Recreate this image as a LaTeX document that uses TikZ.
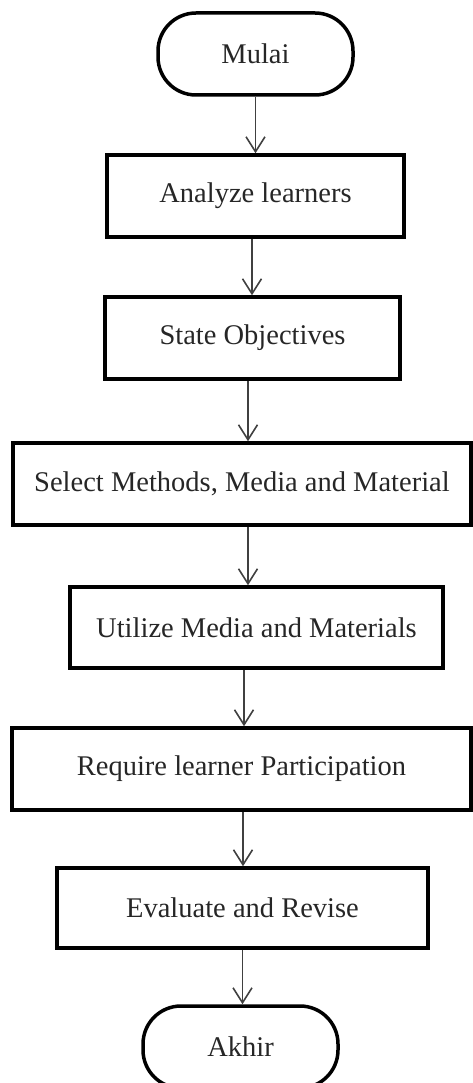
\documentclass[tikz,border=0pt]{standalone}
\usepackage{fontspec}
\setmainfont{Liberation Serif}
\usetikzlibrary{arrows.meta,calc}
\begin{document}
\begin{tikzpicture}[x=1pt,y=-1pt,
  every node/.style={font=\fontsize{28.5}{32}\selectfont, text=black!85},
  box/.style={draw=black, line width=3.5pt, rectangle, inner sep=0pt},
  term/.style={draw=black, line width=3.5pt, rectangle, rounded corners=38pt, inner sep=0pt, minimum width=195pt, minimum height=82pt},
  arr/.style={draw=black!75, line width=1.6pt, -{Straight Barb[length=15pt,width=19pt,line width=1.6pt]}}
]
\useasboundingbox (0,0) rectangle (473,1083);
\node[term] (mulai) at (255.5,54) {Mulai};
\node[box, minimum width=297pt, minimum height=82pt] (analyze) at (255.5,196) {Analyze learners};
\node[box, minimum width=295pt, minimum height=82pt] (state) at (252.5,338) {State Objectives};
\node[box, minimum width=458pt, minimum height=82pt] (select) at (242,484) {Select Methods, Media and Material};
\node[box, minimum width=373pt, minimum height=81pt] (utilize) at (256.5,627.5) {Utilize Media and Materials};
\node[box, minimum width=459pt, minimum height=82pt] (require) at (241.5,769) {Require learner Participation};
\node[box, minimum width=371pt, minimum height=80pt] (evaluate) at (242.5,908) {Evaluate and Revise};
\node[term] (akhir) at (240.5,1047) {Akhir};

\draw[arr] (mulai.south) -- (mulai.south |- analyze.north);
\draw[arr] ([xshift=-3.5pt]analyze.south) -- ([xshift=-3.5pt]analyze.south |- state.north);
\draw[arr] ([xshift=-4.5pt]state.south) -- ([xshift=-4.5pt]state.south |- select.north);
\draw[arr] ([xshift=-8.5pt]utilize.north |- select.south) -- ([xshift=-8.5pt]utilize.north);
\draw[arr] ([xshift=2.5pt]require.north |- utilize.south) -- ([xshift=2.5pt]require.north);
\draw[arr] ([xshift=1.5pt]require.south) -- ([xshift=1.5pt]require.south |- evaluate.north);
\draw[arr] (evaluate.south) -- (evaluate.south |- akhir.north);
\end{tikzpicture}
\end{document}
